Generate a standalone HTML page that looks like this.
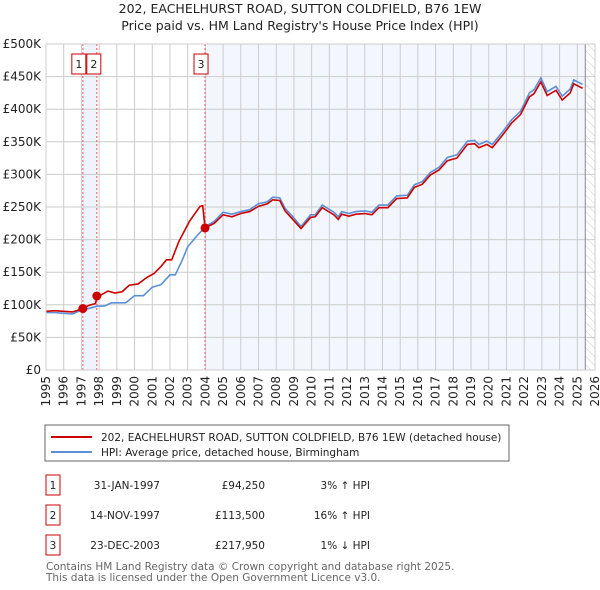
<!DOCTYPE html>
<html><head><meta charset="utf-8"><style>
body{margin:0;background:#fff;font-family:"DejaVu Sans","Liberation Sans",sans-serif;}
#wrap{position:relative;width:600px;height:590px;overflow:hidden}
</style></head><body>
<div id="wrap">
<svg id="svg" width="600" height="590" xmlns="http://www.w3.org/2000/svg" font-family="DejaVu Sans, Liberation Sans, sans-serif">
<text x="300" y="13" text-anchor="middle" font-size="12.5" fill="#222">202, EACHELHURST ROAD, SUTTON COLDFIELD, B76 1EW</text>
<text x="300" y="30" text-anchor="middle" font-size="12.5" fill="#222">Price paid vs. HM Land Registry's House Price Index (HPI)</text>
<g id="plot"></g>
<rect x="45" y="425" width="464" height="36" fill="#fff" stroke="#666"/>
<line x1="51" y1="437" x2="92" y2="437" stroke="#cc0000" stroke-width="2"/>
<text x="101" y="441" font-size="10.5" fill="#222">202, EACHELHURST ROAD, SUTTON COLDFIELD, B76 1EW (detached house)</text>
<line x1="51" y1="452" x2="92" y2="452" stroke="#5b8fd6" stroke-width="2"/>
<text x="101" y="456" font-size="10.5" fill="#222">HPI: Average price, detached house, Birmingham</text>
<g font-size="10.5" fill="#222">
<rect x="46" y="475" width="14" height="20" fill="#fff" stroke="#cc0000"/><text x="53" y="489" text-anchor="middle">1</text>
<text x="160" y="489" text-anchor="end">31-JAN-1997</text>
<text x="265" y="489" text-anchor="end">£94,250</text>
<text x="370" y="489" text-anchor="end">3% ↑ HPI</text>
<rect x="46" y="505" width="14" height="20" fill="#fff" stroke="#cc0000"/><text x="53" y="519" text-anchor="middle">2</text>
<text x="160" y="519" text-anchor="end">14-NOV-1997</text>
<text x="265" y="519" text-anchor="end">£113,500</text>
<text x="370" y="519" text-anchor="end">16% ↑ HPI</text>
<rect x="46" y="535" width="14" height="20" fill="#fff" stroke="#cc0000"/><text x="53" y="549" text-anchor="middle">3</text>
<text x="160" y="549" text-anchor="end">23-DEC-2003</text>
<text x="265" y="549" text-anchor="end">£217,950</text>
<text x="370" y="549" text-anchor="end">1% ↓ HPI</text>
</g>
<text x="46" y="570" font-size="10.5" fill="#666">Contains HM Land Registry data © Crown copyright and database right 2025.</text>
<text x="46" y="581" font-size="10.5" fill="#666">This data is licensed under the Open Government Licence v3.0.</text>
</svg>
</div>
<script>
const hpiYears=[1995,1995.5,1996,1996.5,1997,1997.5,1997.9,1998.3,1998.7,1999.5,2000,2000.5,2001,2001.5,2002,2002.3,2002.7,2003,2003.5,2004,2004.5,2005,2005.5,2006,2006.5,2007,2007.5,2007.8,2008.2,2008.5,2009,2009.4,2009.94,2010.2,2010.6,2011.26,2011.5,2011.7,2012.1,2012.5,2013.0,2013.4,2013.8,2014.3,2014.8,2015.4,2015.8,2016.25,2016.7,2017.2,2017.66,2018.2,2018.8,2019.2,2019.45,2019.9,2020.2,2020.8,2021.3,2021.8,2022.3,2022.56,2022.94,2023.3,2023.8,2024.15,2024.6,2024.8,2025.3];
const hpiValues=[88,88,87,86,92,95,98,98,103,103,114,114,127,131,146,146,169,189,205,220,228,242,239,243,246,255,258,265,264,248,233,220,238,238,253,242,235,243,240,243,244,242,253,253,267,268,284,289,303,311,326,330,351,352,346,351,346,366,384,397,425,430,448,427,435,420,431,445,438];
const propYears=[1995,1995.5,1996,1996.5,1997.08,1997.4,1997.8,1997.87,1998.1,1998.5,1998.9,1999.3,1999.7,2000.2,2000.7,2001.1,2001.5,2001.8,2002.1,2002.5,2003.1,2003.7,2003.85,2003.98,2004.5,2005,2005.5,2006,2006.5,2007,2007.5,2007.8,2008.2,2008.5,2009,2009.4,2009.94,2010.2,2010.6,2011.26,2011.5,2011.7,2012.1,2012.5,2013.0,2013.4,2013.8,2014.3,2014.8,2015.4,2015.8,2016.25,2016.7,2017.2,2017.66,2018.2,2018.8,2019.2,2019.45,2019.9,2020.2,2020.8,2021.3,2021.8,2022.3,2022.56,2022.94,2023.3,2023.8,2024.15,2024.6,2024.8,2025.3];
const propValues=[90,91,90,89,94.25,99,102,113.5,115,121,118,120,130,132,142,148,159,169,169,197,228,251,252,217.95,225,238,235,240,243,251,255,261,260,244,229,217,234,235,249,238,231,239,236,239,240,238,249,249,263,264,280,285,299,307,321,325,346,347,341,346,341,361,379,392,419,424,442,421,429,414,425,439,432];
const saleLabels=["1","2","3"];
const saleYears=[1997.08,1997.87,2003.98];
const saleValues=[94.25,113.5,217.95];
const yTicks=[0,50,100,150,200,250,300,350,400,450,500];
const yTickLabels=["£0","£50K","£100K","£150K","£200K","£250K","£300K","£350K","£400K","£450K","£500K"];
const xTicks=[1995,1996,1997,1998,1999,2000,2001,2002,2003,2004,2005,2006,2007,2008,2009,2010,2011,2012,2013,2014,2015,2016,2017,2018,2019,2020,2021,2022,2023,2024,2025,2026];
const forecastStart=2025.45;

const L=46,R=595,T=44,B=370;
const xS=y=>L+(y-1995)*(R-L)/31;
const yS=v=>B-v*(B-T)/500;
const NS="http://www.w3.org/2000/svg";
const g=document.getElementById('plot');
function mk(tag,attrs){const e=document.createElementNS(NS,tag);for(const k in attrs)e.setAttribute(k,attrs[k]);g.appendChild(e);return e;}
let e;
e=mk('rect',{x:xS(saleYears[0]),y:T,width:xS(saleYears[1])-xS(saleYears[0]),height:B-T,fill:'#eef3fc'});


e=mk('rect',{x:xS(saleYears[2]),y:T,width:xS(forecastStart)-xS(saleYears[2]),height:B-T,fill:'#f3f6fd'});


const defs=mk('defs',{});
defs.innerHTML='<pattern id="hatch" width="6" height="6" patternUnits="userSpaceOnUse" patternTransform="rotate(-45)"><line x1="0" y1="0" x2="0" y2="6" stroke="#ccc" stroke-width="1"/></pattern>';
e=mk('rect',{x:xS(forecastStart),y:T,width:R-xS(forecastStart),height:B-T,fill:'url(#hatch)'});


yTicks.forEach((v,i)=>{
 e=mk('line',{x1:L,x2:R,y1:yS(v),y2:yS(v),stroke:'#ccc','stroke-width':1});
 
 
 e=mk('text',{x:L-5,y:yS(v)+4,'text-anchor':'end','font-size':'12',fill:'#222'});
 e.textContent=yTickLabels[i];
 
 
});
xTicks.forEach(y=>{
 e=mk('line',{x1:xS(y),x2:xS(y),y1:T,y2:B,stroke:'#ccc','stroke-width':1});
 
 
 const x=xS(y);
 e=mk('text',{x:x+4,y:B+6,'text-anchor':'end','font-size':'12',fill:'#222',transform:`rotate(-90 ${x+4} ${B+6})`});
 e.textContent=String(y);
 
 
});
e=mk('line',{x1:xS(forecastStart),x2:xS(forecastStart),y1:T,y2:B,stroke:'#888','stroke-width':1});


saleYears.forEach((y,i)=>{
 e=mk('line',{x1:xS(y),x2:xS(y),y1:T,y2:B,stroke:'#e55','stroke-width':1,'stroke-dasharray':'2,2'});
 
 
});
e=mk('polyline',{points:hpiYears.map((y,i)=>xS(y)+','+yS(hpiValues[i])).join(' '),fill:'none',stroke:'#5b8fd6','stroke-width':1.6});


e=mk('polyline',{points:propYears.map((y,i)=>xS(y)+','+yS(propValues[i])).join(' '),fill:'none',stroke:'#cc0000','stroke-width':1.6});


saleYears.forEach((y,i)=>{
 e=mk('circle',{cx:xS(y),cy:yS(saleValues[i]),r:4.5,fill:'#cc0000'});
 
 
 const bx=i===1?xS(y)-10:xS(y)-11;
 e=mk('rect',{x:bx,y:54,width:14,height:20,fill:'#fff',stroke:'#cc0000'});
 
 
 e=mk('text',{x:bx+7,y:68,'text-anchor':'middle','font-size':'11',fill:'#222'});
 e.textContent=saleLabels[i];
 
 
});
e=mk('rect',{x:L,y:T,width:R-L,height:B-T,fill:'none',stroke:'#ccc'});


</script>
</body></html>
